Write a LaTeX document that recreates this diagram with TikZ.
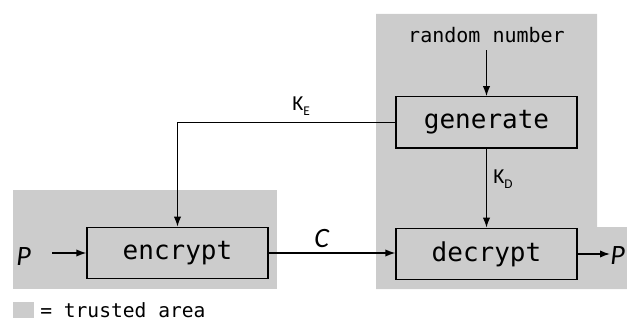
\documentclass[tikz,border=0pt]{standalone}
\usepackage{xcolor}
\usepackage{fontspec}
\setmainfont{Carlito}
\newfontfamily\monofont{DejaVu Sans Mono}
\usetikzlibrary{arrows.meta}

\definecolor{trustgray}{RGB}{204,204,204}

\tikzset{
  block/.style={draw=black, line width=1pt, fill=trustgray, inner sep=0pt,
    minimum width=135.75pt, minimum height=38.5pt,
    font=\monofont\fontsize{19.5}{20}\selectfont},
  flow/.style={line width=1pt, -{Latex[length=7.5pt,width=5.5pt]}},
  plainline/.style={line width=1pt},
  sym/.style={inner sep=0pt, font=\fontsize{21}{21}\selectfont\itshape},
  keylab/.style={inner sep=0pt, font=\fontsize{16}{16}\selectfont},
}

\begin{document}
\begin{tikzpicture}[x=0.75pt,y=0.75pt,yscale=-1,xscale=1]
%set diagram frame
\useasboundingbox (0,0) rectangle (627,320);

%Shape: trusted areas
\fill [trustgray] (13,190) rectangle (277,289);
\fill [trustgray] (376,14) -- (597,14) -- (597,227) -- (627,227) -- (627,289) -- (376,289) -- cycle;
%Shape: legend square
\fill [trustgray] (13,302) rectangle (34,318);

% Blocks
\node [block] (enc) at (177.5,253) {encrypt};
\node [block] (gen) at (486.5,122.5) {generate};
\node [block] (dec) at (486.5,254) {decrypt};

% Text Node
\node [inner sep=5pt, font=\monofont\fontsize{15}{15}\selectfont, anchor=base] (rnd) at (486.5,43) {random number};
% Text Node
\node [sym, anchor=base west] (pin) at (16,265) {P};
% Text Node
\node [sym, anchor=base west] (pout) at (610,264) {P};
% Text Node
\node [sym, anchor=base west] (clab) at (314,247) {C};
% Text Node
\node [keylab, anchor=base west] (ke) at (292,111) {K\raisebox{-3.5pt}{\fontsize{10}{10}\selectfont E}};
% Text Node
\node [keylab, anchor=base west] (kd) at (493,184) {K\raisebox{-3.5pt}{\fontsize{10}{10}\selectfont D}};
% Text Node
\node [inner sep=0pt, anchor=base west, font=\monofont\fontsize{14.7}{15}\selectfont] (leg) at (40,317) {= trusted area};

%Connectors
\coordinate (pstart) at (52,253);
\coordinate (corner) at (enc.north |- gen.west);
\draw [flow] (rnd.south) -- (gen.north);
\draw [plainline] (gen.west) -- (corner);
\draw [flow] (corner) -- (enc.north);
\draw [flow] (gen.south) -- (dec.north);
\draw [flow] (pstart) -- (enc.west);
\draw [flow] (enc.east) -- (enc.east -| dec.west);
\draw [flow] (dec.east) -- (dec.east -| pout.west);

\end{tikzpicture}
\end{document}
